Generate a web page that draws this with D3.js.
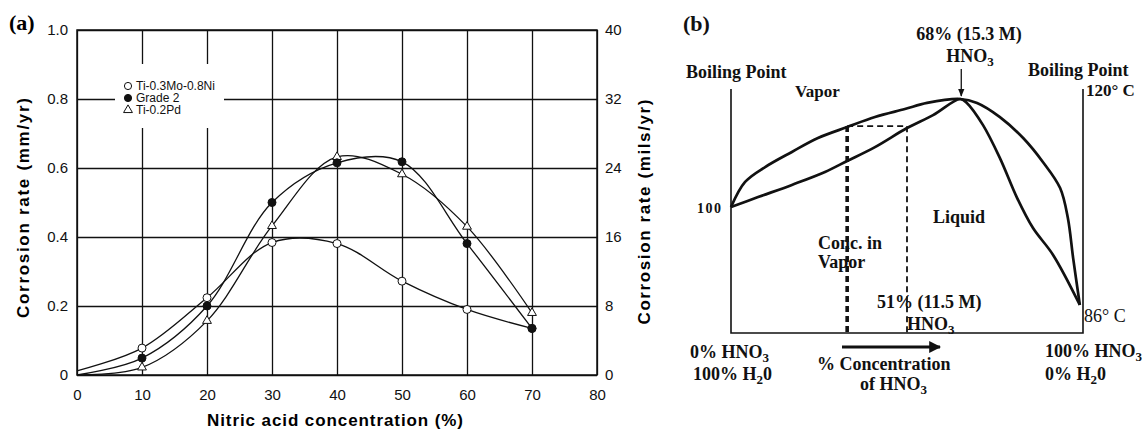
<!DOCTYPE html>
<html>
<head>
<meta charset="utf-8">
<script src="https://cdn.jsdelivr.net/npm/d3@7"></script>
<style>
  body { margin: 0; background: #fff; }
  .sans { font-family: "Liberation Sans", Arial, sans-serif; }
  .serif { font-family: "Liberation Serif", "Times New Roman", serif; }
</style>
</head>
<body>
<div id="chart"></div>
<script>
// panel (a) data: corrosion rate (mm/yr) vs nitric acid %
var concA = [0, 10, 20, 30, 40, 50, 60, 70];
var tiMoNi = [0.012, 0.078, 0.224, 0.384, 0.381, 0.272, 0.19, 0.135];
var grade2 = [0, 0.049, 0.2, 0.5, 0.615, 0.618, 0.381, 0.135];
var tiPd = [0, 0.022, 0.157, 0.432, 0.632, 0.582, 0.43, 0.18];
var seriesNames = ["Ti-0.3Mo-0.8Ni", "Grade 2", "Ti-0.2Pd"];
var xTicksA = [0, 10, 20, 30, 40, 50, 60, 70, 80];
var yTicksMm = [0, 0.2, 0.4, 0.6, 0.8, 1.0];
var yTicksMils = [0, 8, 16, 24, 32, 40];

// panel (b) data: schematic boiling diagram (conc % HNO3, level in % of frame height)
var vaporConc = [0, 4, 9.7, 17.3, 24.7, 33, 40.9, 49.4, 55.7, 65.1, 69.9, 76.4, 83, 88.6, 93.5, 95.7, 97.2, 99.1];
var vaporLevel = [51.6, 61.9, 68, 74.2, 79.9, 84.4, 88.5, 91.8, 94.3, 95.9, 94.3, 88.5, 79.9, 70.1, 59.4, 47.1, 30.7, 11.5];
var liquidConc = [0, 7.7, 17.3, 26.7, 33, 40.9, 50, 57.4, 65.1, 67, 71.6, 76.4, 81.3, 85.8, 91.5, 99.1];
var liquidLevel = [51.6, 55.7, 60.7, 66, 70.5, 76.2, 84, 89.3, 95.9, 94.3, 85.2, 71.7, 55.3, 43, 32, 11.5];
var azeoConc = 65.7;
var vaporCut = 33;
var liquidCut = 50;
var tieLevel = 84.8;

var svgWidth = 1146;
var svgHeight = 434;

var svg = d3.select("#chart")
  .append("svg")
  .attr("width", svgWidth)
  .attr("height", svgHeight);

// ---------- panel (a) ----------
var x = d3.scaleLinear().domain([0, 80]).range([77, 597]);
var y = d3.scaleLinear().domain([0, 1]).range([375, 30]);
var yMils = d3.scaleLinear().domain([0, 40]).range([375, 30]);

var chartA = svg.append("g").attr("class", "sans");

var leftAxis = d3.axisLeft(y)
  .tickValues(yTicksMm)
  .tickSize(-(597 - 77))
  .tickPadding(9)
  .tickFormat(d => d === 0 ? "0" : d3.format(".1f")(d));

var bottomAxis = d3.axisBottom(x)
  .tickValues(xTicksA)
  .tickSize(-(375 - 30))
  .tickPadding(14)
  .tickFormat(d3.format("d"));

var rightAxis = d3.axisRight(yMils)
  .tickValues(yTicksMils)
  .tickSize(0)
  .tickPadding(8);

var gy = chartA.append("g")
  .attr("transform", "translate(77,0)")
  .call(leftAxis);
var gx = chartA.append("g")
  .attr("transform", "translate(0,375)")
  .call(bottomAxis);
var gr = chartA.append("g")
  .attr("transform", "translate(597,0)")
  .call(rightAxis);

[gy, gx, gr].forEach(function(g) {
  g.select(".domain").remove();
  g.selectAll(".tick line").attr("stroke", "#111").attr("stroke-width", 1.3);
  g.selectAll(".tick text")
    .attr("fill", "#111")
    .style("font-size", "15px")
    .style("font-family", "'Liberation Sans', Arial, sans-serif");
});

chartA.append("rect")
  .attr("x", 77).attr("y", 30)
  .attr("width", 597 - 77).attr("height", 375 - 30)
  .attr("fill", "none").attr("stroke", "#111").attr("stroke-width", 1.5);

// legend box hides the grid
chartA.append("rect")
  .attr("x", 115).attr("y", 64)
  .attr("width", 109).attr("height", 64)
  .attr("fill", "#fff");

var curve = d3.line()
  .x((d, i) => x(concA[i]))
  .y(d => y(d))
  .curve(d3.curveCatmullRom.alpha(0.5));

[tiMoNi, grade2, tiPd].forEach(function(s) {
  chartA.append("path")
    .attr("d", curve(s))
    .attr("fill", "none")
    .attr("stroke", "#111")
    .attr("stroke-width", 1.3);
});

var tri = d3.symbol().type(d3.symbolTriangle).size(34);

function drawMarkers(s, kind) {
  var pts = s.map((v, i) => [concA[i], v]).filter(p => p[0] > 0);
  if (kind === "tri") {
    chartA.selectAll(null).data(pts).enter()
      .append("path")
      .attr("d", tri)
      .attr("transform", d => `translate(${x(d[0])},${y(d[1])})`)
      .attr("fill", "#fff").attr("stroke", "#111").attr("stroke-width", 1);
  } else {
    chartA.selectAll(null).data(pts).enter()
      .append("circle")
      .attr("cx", d => x(d[0]))
      .attr("cy", d => y(d[1]))
      .attr("r", 4)
      .attr("fill", kind === "open" ? "#fff" : "#111")
      .attr("stroke", "#111").attr("stroke-width", 1);
  }
}
drawMarkers(tiPd, "tri");
drawMarkers(tiMoNi, "open");
drawMarkers(grade2, "filled");

// legend
var kinds = ["open", "filled", "tri"];
seriesNames.forEach(function(name, i) {
  var ly = 86 + i * 12;
  if (kinds[i] === "tri") {
    chartA.append("path").attr("d", tri)
      .attr("transform", `translate(128,${ly})`)
      .attr("fill", "#fff").attr("stroke", "#111");
  } else {
    chartA.append("circle").attr("cx", 128).attr("cy", ly).attr("r", 3.6)
      .attr("fill", kinds[i] === "open" ? "#fff" : "#111").attr("stroke", "#111");
  }
  chartA.append("text")
    .attr("x", 136).attr("y", ly + 4)
    .style("font-size", "12px")
    .attr("fill", "#111")
    .text(name);
});

chartA.append("text")
  .attr("x", 335).attr("y", 426)
  .attr("text-anchor", "middle")
  .attr("textLength", 256)
  .style("font-size", "17px").style("font-weight", "bold")
  .text("Nitric acid concentration (%)");

chartA.append("text")
  .attr("transform", "translate(29,208) rotate(-90)")
  .attr("text-anchor", "middle")
  .attr("textLength", 220)
  .style("font-size", "17px").style("font-weight", "bold")
  .text("Corrosion rate (mm/yr)");

chartA.append("text")
  .attr("transform", "translate(650,212) rotate(-90)")
  .attr("text-anchor", "middle")
  .attr("textLength", 225)
  .style("font-size", "17px").style("font-weight", "bold")
  .text("Corrosion rate (mils/yr)");

svg.append("text").attr("class", "serif")
  .attr("x", 9).attr("y", 30)
  .style("font-size", "22px").style("font-weight", "bold")
  .text("(a)");

// ---------- panel (b) ----------
var xB = d3.scaleLinear().domain([0, 100]).range([731, 1083]);
var yB = d3.scaleLinear().domain([0, 100]).range([333, 89]);

var chartB = svg.append("g").attr("class", "serif");

chartB.append("path")
  .attr("d", `M${xB(0)},${yB(100)}V${yB(0)}H${xB(100)}V${yB(100)}`)
  .attr("fill", "none").attr("stroke", "#111").attr("stroke-width", 1.6);

var lineB = d3.line().curve(d3.curveCatmullRom.alpha(0.5));

chartB.append("path")
  .attr("d", lineB(vaporConc.map((c, i) => [xB(c), yB(vaporLevel[i])])))
  .attr("fill", "none").attr("stroke", "#111").attr("stroke-width", 2.7);
chartB.append("path")
  .attr("d", lineB(liquidConc.map((c, i) => [xB(c), yB(liquidLevel[i])])))
  .attr("fill", "none").attr("stroke", "#111").attr("stroke-width", 2.7);

// vapour composition (thick dashes) and liquid composition (thin dashes)
chartB.append("line")
  .attr("x1", xB(vaporCut)).attr("x2", xB(vaporCut))
  .attr("y1", yB(tieLevel)).attr("y2", yB(0))
  .attr("stroke", "#111").attr("stroke-width", 3.6).attr("stroke-dasharray", "6,4");
chartB.append("path")
  .attr("d", `M${xB(vaporCut)},${yB(tieLevel)}H${xB(liquidCut)}V${yB(0)}`)
  .attr("fill", "none")
  .attr("stroke", "#111").attr("stroke-width", 1.8).attr("stroke-dasharray", "6,4");

// arrows
var defs = svg.append("defs");
defs.append("marker")
  .attr("id", "head").attr("viewBox", "0 0 10 10")
  .attr("refX", 9).attr("refY", 5)
  .attr("markerWidth", 4).attr("markerHeight", 4)
  .attr("orient", "auto")
  .append("path").attr("d", "M0,0L10,5L0,10Z").attr("fill", "#111");
defs.append("marker")
  .attr("id", "headThin").attr("viewBox", "0 0 10 10")
  .attr("refX", 9).attr("refY", 5)
  .attr("markerWidth", 6).attr("markerHeight", 8)
  .attr("orient", "auto")
  .append("path").attr("d", "M0,1L10,5L0,9Z").attr("fill", "#111");

chartB.append("line")
  .attr("x1", xB(azeoConc) - 1).attr("x2", xB(azeoConc) - 1)
  .attr("y1", 69).attr("y2", 96)
  .attr("stroke", "#111").attr("stroke-width", 1.3)
  .attr("marker-end", "url(#headThin)");

chartB.append("line")
  .attr("x1", 842).attr("x2", 940)
  .attr("y1", 347).attr("y2", 347)
  .attr("stroke", "#111").attr("stroke-width", 3)
  .attr("marker-end", "url(#head)");

// text with optional subscripts: a part given as [str] is set lower and smaller
function label(parts, px, py, opts) {
  opts = opts || {};
  var t = chartB.append("text")
    .attr("x", px).attr("y", py)
    .attr("text-anchor", opts.anchor || "start")
    .attr("fill", "#111")
    .style("font-size", (opts.size || 18) + "px")
    .style("font-weight", opts.weight || "bold");
  if (opts.spacing) t.style("letter-spacing", opts.spacing + "px");
  var shift = 0;
  parts.forEach(function(p) {
    if (Array.isArray(p)) {
      t.append("tspan").attr("dy", 4).style("font-size", "13px").text(p[0]);
      shift = -4;
    } else {
      t.append("tspan").attr("dy", shift).text(p);
      shift = 0;
    }
  });
  return t;
}

label(["(b)"], 683, 31, { size: 22 });
label(["Boiling Point"], 686, 78);
label(["Vapor"], 795, 97, { size: 17 });
label(["100"], 697, 213, { size: 14, spacing: 1.5 });
label(["68% (15.3 M)"], 969, 40, { anchor: "middle" });
label(["HNO", ["3"]], 970, 62, { anchor: "middle" });
label(["Boiling Point"], 1028, 76);
label(["120\u00B0 C"], 1086, 96, { size: 17 });
label(["Liquid"], 933, 223);
label(["Conc. in"], 818, 249);
label(["Vapor"], 818, 268);
label(["51% (11.5 M)"], 877, 308);
label(["HNO", ["3"]], 907, 330);
label(["86\u00B0 C"], 1084, 322, { weight: "normal" });
label(["0% HNO", ["3"]], 690, 358);
label(["100% H", ["2"], "0"], 693, 380);
label(["% Concentration"], 817, 370);
label(["of HNO", ["3"]], 860, 390);
label(["100% HNO", ["3"]], 1045, 357);
label(["0% H", ["2"], "0"], 1045, 380);
</script>
</body>
</html>
